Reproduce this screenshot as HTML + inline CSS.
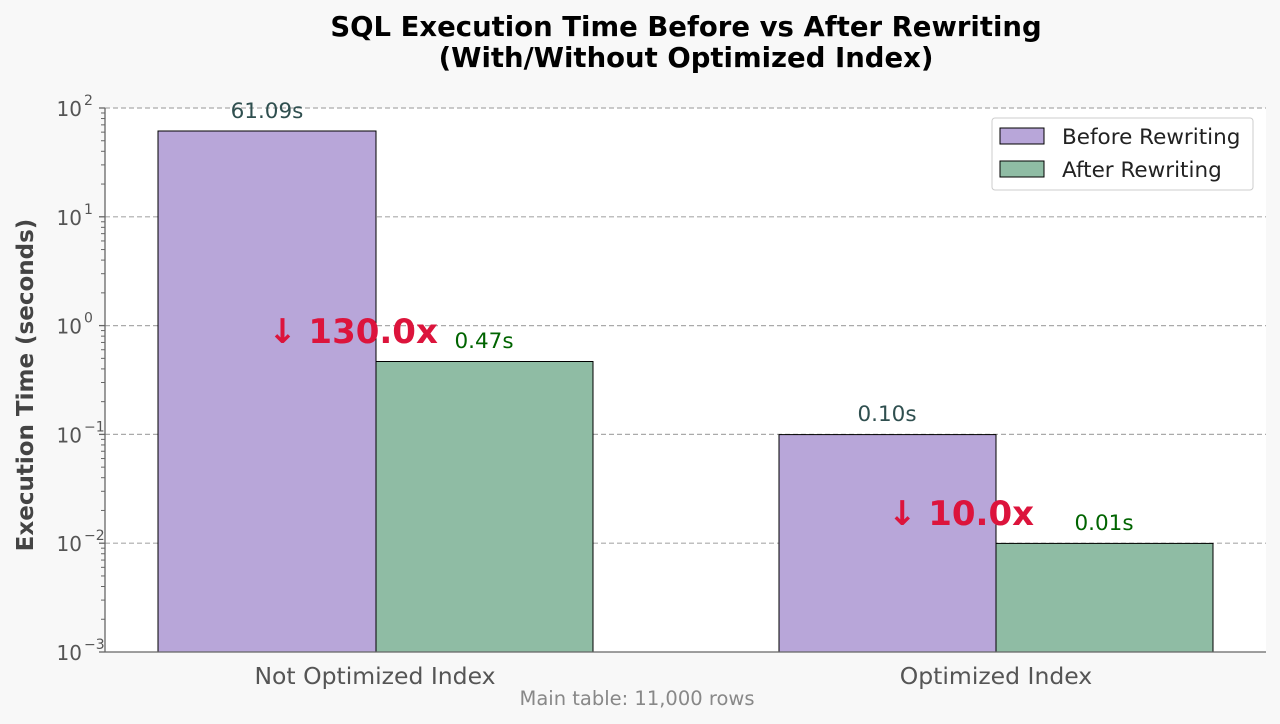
<!DOCTYPE html>
<html><head><meta charset="utf-8"><style>
body{margin:0;background:#f8f8f8;}
svg{display:block;font-family:"DejaVu Sans","Liberation Sans",sans-serif;}
</style></head><body>
<svg id="s" width="1280" height="724" xmlns="http://www.w3.org/2000/svg">
<rect width="1280" height="724" fill="#f8f8f8"/>
<rect x="105" y="108" width="1161" height="544" fill="#ffffff"/>
<text x="686" y="36" text-anchor="middle" font-size="27.5" font-weight="bold" fill="#000">SQL Execution Time Before vs After Rewriting</text>
<text x="686" y="67" text-anchor="middle" font-size="27.5" font-weight="bold" fill="#000">(With/Without Optimized Index)</text>
<g id="grid"></g>
<rect x="158" y="131" width="218" height="521" fill="#b8a6d9" stroke="#000" stroke-width="1"/>
<rect x="376" y="361.5" width="217" height="290.5" fill="#8fbca4" stroke="#000" stroke-width="1"/>
<rect x="779" y="434.6" width="217" height="217.4" fill="#b8a6d9" stroke="#000" stroke-width="1"/>
<rect x="996" y="543.4" width="217" height="108.6" fill="#8fbca4" stroke="#000" stroke-width="1"/>
<line x1="105" y1="108" x2="105" y2="652" stroke="#666" stroke-width="1.3"/>
<line x1="105" y1="652" x2="1266" y2="652" stroke="#666" stroke-width="1.3"/>
<g id="ticks"></g>
<text x="267" y="118" text-anchor="middle" font-size="21.5" fill="#2f4f4f">61.09s</text>
<text x="484" y="348" text-anchor="middle" font-size="21.5" fill="#006400">0.47s</text>
<text x="887" y="421" text-anchor="middle" font-size="21.5" fill="#2f4f4f">0.10s</text>
<text x="1104" y="530" text-anchor="middle" font-size="21.5" fill="#006400">0.01s</text>
<text x="353" y="343" text-anchor="middle" font-size="34" font-weight="bold" fill="#dc143c">↓ 130.0x</text>
<text x="961" y="525" text-anchor="middle" font-size="34" font-weight="bold" fill="#dc143c">↓ 10.0x</text>
<text x="375" y="684" text-anchor="middle" font-size="23.5" fill="#555">Not Optimized Index</text>
<text x="996" y="684" text-anchor="middle" font-size="23.5" fill="#555">Optimized Index</text>
<text x="637" y="705" text-anchor="middle" font-size="19.5" fill="#888">Main table: 11,000 rows</text>
<text transform="translate(33,385) rotate(-90)" text-anchor="middle" font-size="23" font-weight="bold" fill="#444">Execution Time (seconds)</text>
<rect x="992" y="118" width="261" height="72" rx="3" fill="#fff" fill-opacity="0.9" stroke="#ccc"/>
<rect x="1000" y="128" width="44" height="16" fill="#b8a6d9" stroke="#000"/>
<rect x="1000" y="161" width="44" height="16" fill="#8fbca4" stroke="#000"/>
<text x="1062" y="144" font-size="21.5" fill="#222">Before Rewriting</text>
<text x="1062" y="177" font-size="21.5" fill="#222">After Rewriting</text>
</svg>
<script>
var NS="http://www.w3.org/2000/svg",g=document.getElementById('grid'),t=document.getElementById('ticks');
function el(p,n,a,txt){var e=document.createElementNS(NS,n);for(var k in a)e.setAttribute(k,a[k]);if(txt)e.textContent=txt;p.appendChild(e);return e;}
function Y(v){return 652-(Math.log10(v)+3)*108.8;}
for(var d=-3;d<=2;d++){var y=Y(Math.pow(10,d));
if(d>-3)el(g,'line',{x1:105,x2:1266,y1:y,y2:y,stroke:'#aaa','stroke-dasharray':'5,3','stroke-width':1.2});
el(t,'line',{x1:99,x2:105,y1:y,y2:y,stroke:'#666','stroke-width':1.3});
var tx=el(t,'text',{x:82,y:y+8,'text-anchor':'end','font-size':20,fill:'#555'},'10');
el(t,'text',{x:84,y:y-3,'font-size':14,fill:'#555'},d<0?'\u2212'+(-d):''+d);
if(d<2)for(var m=2;m<=9;m++){var yy=Y(m*Math.pow(10,d));el(t,'line',{x1:101,x2:105,y1:yy,y2:yy,stroke:'#666','stroke-width':1});}}
</script>
</body></html>
